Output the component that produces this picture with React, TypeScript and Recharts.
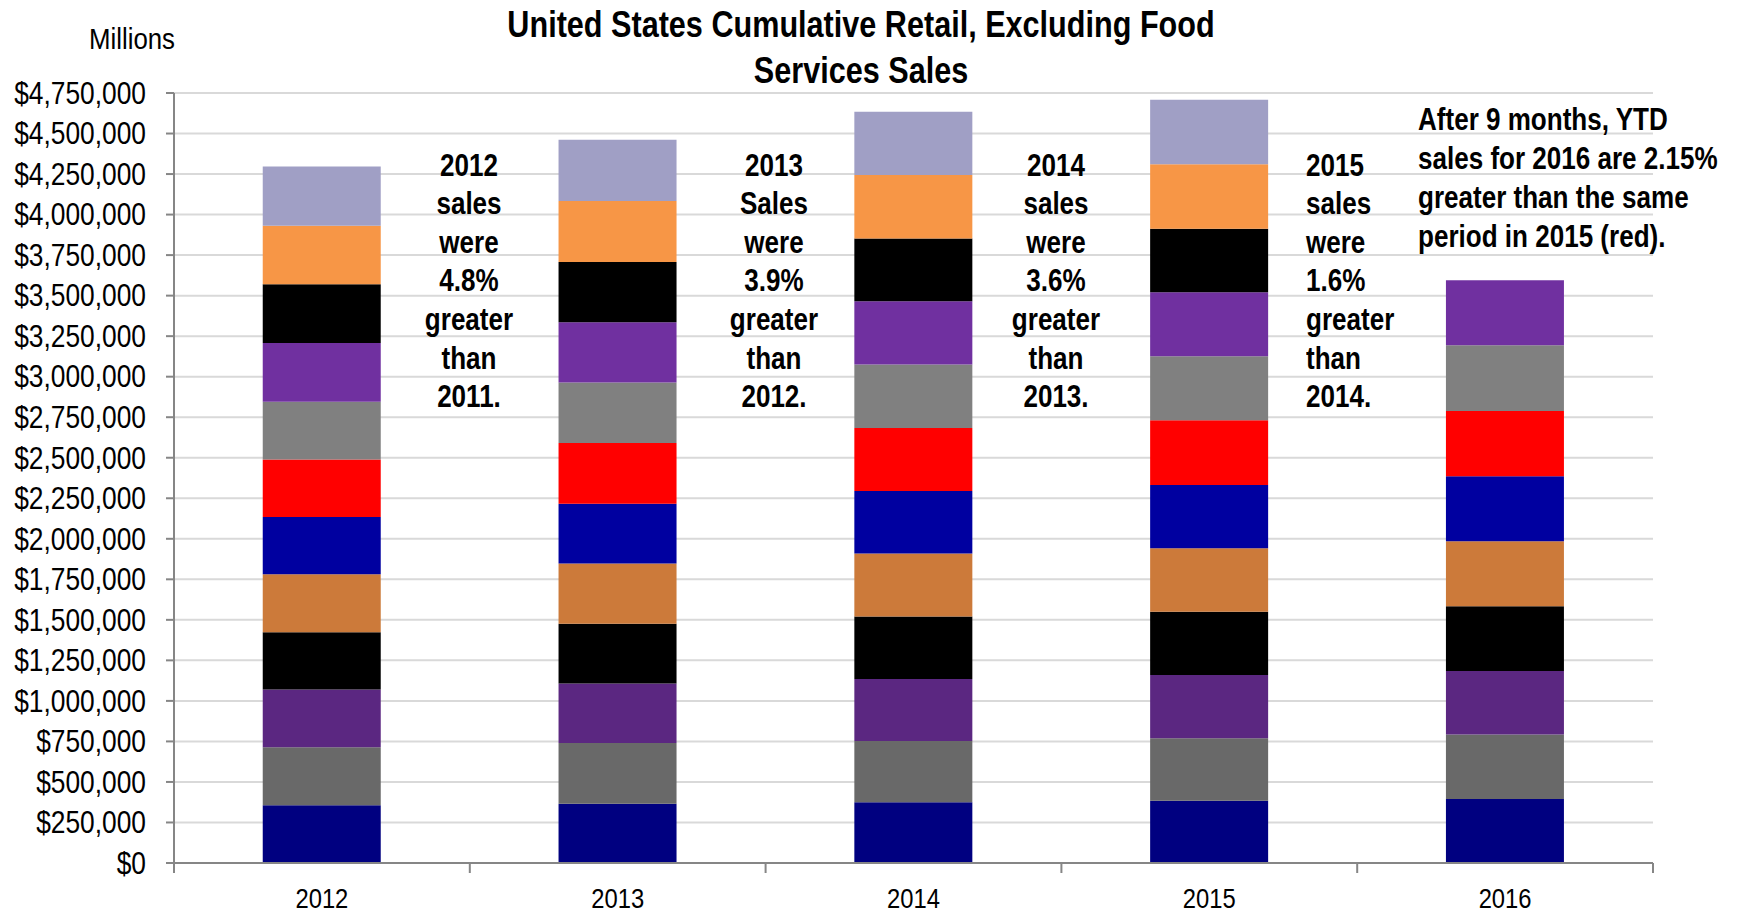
import React from "react";
import { BarChart, Bar, XAxis, YAxis, CartesianGrid } from "recharts";

const years = ["2012", "2013", "2014", "2015", "2016"];
const monthKeys = ["jan", "feb", "mar", "apr", "may", "jun", "jul", "aug", "sep", "oct", "nov", "dec"];
const monthColors = ["#000080", "#696969", "#5B2781", "#000000", "#CC7A3A", "#0000A0", "#FF0000", "#808080", "#7030A0", "#000000", "#F79646", "#A09FC5"];

// monthly sales, millions of dollars
const sales2012 = [355700, 357600, 357600, 353100, 357700, 353300, 353800, 357200, 361700, 361800, 361500, 366000];
const sales2013 = [365600, 374200, 368100, 367400, 372400, 368600, 374900, 372300, 371800, 371700, 376000, 378600];
const sales2014 = [374200, 377900, 382300, 386500, 388400, 385900, 388400, 390900, 390200, 388400, 390300, 390800];
const sales2015 = [384100, 384700, 390200, 390300, 392700, 390200, 398900, 394600, 394500, 392700, 398300, 397000];
const sales2016 = [394600, 398800, 390300, 400700, 400700, 400800, 402500, 405100, 400700];

const yTicks = [0, 250000, 500000, 750000, 1000000, 1250000, 1500000, 1750000, 2000000, 2250000, 2500000, 2750000, 3000000, 3250000, 3500000, 3750000, 4000000, 4250000, 4500000, 4750000];

const titleLines = ["United States Cumulative Retail, Excluding Food", "Services Sales"];
const note2012 = ["2012", "sales", "were", "4.8%", "greater", "than", "2011."];
const note2013 = ["2013", "Sales", "were", "3.9%", "greater", "than", "2012."];
const note2014 = ["2014", "sales", "were", "3.6%", "greater", "than", "2013."];
const note2015 = ["2015", "sales", "were", "1.6%", "greater", "than", "2014."];
const note2016 = ["After 9 months, YTD", "sales for 2016 are 2.15%", "greater than the same", "period in 2015 (red)."];

const allSales = [sales2012, sales2013, sales2014, sales2015, sales2016];
const data = years.map((year, i) => {
  const row: Record<string, any> = { year };
  monthKeys.forEach((k, m) => {
    row[k] = allSales[i][m] !== undefined ? allSales[i][m] : null;
  });
  return row;
});

const W = 1739;
const H = 916;
const Y_AXIS_W = 174;
const RIGHT = 86;
const TOP = 93;
const X_AXIS_H = 53;
const BAND = (W - Y_AXIS_W - RIGHT) / years.length;
const SX = 0.85;

const FONT = "'Liberation Sans', Arial, sans-serif";

const fmt = (v: number) => "$" + v.toLocaleString("en-US");

const XTick = (props: any) => {
  const { x, y, payload, index, visibleTicksCount } = props;
  const half = BAND / 2;
  return (
    <g>
      <line x1={x - half} x2={x - half} y1={y} y2={y + 10} stroke="#868686" strokeWidth={2} />
      {index === visibleTicksCount - 1 && (
        <line x1={x + half} x2={x + half} y1={y} y2={y + 10} stroke="#868686" strokeWidth={2} />
      )}
      <text
        transform={`translate(${x},${y + 35}) scale(${SX},1)`}
        textAnchor="middle"
        dominantBaseline="central"
        fontFamily={FONT}
        fontSize={28}
        fill="#000"
      >
        {payload.value}
      </text>
    </g>
  );
};

const YTick = (props: any) => {
  const { x, y, payload } = props;
  return (
    <text
      transform={`translate(${x},${y}) scale(${SX},1)`}
      textAnchor="end"
      dominantBaseline="central"
      fontFamily={FONT}
      fontSize={31}
      fill="#000"
    >
      {fmt(payload.value)}
    </text>
  );
};

const lineStyle = (align: "center" | "left", sx: number): React.CSSProperties => ({
  transform: `scaleX(${sx})`,
  transformOrigin: align === "center" ? "50% 50%" : "0 50%",
  whiteSpace: "nowrap",
});

const boxStyle = (left: number, top: number, align: "center" | "left", width: number, size: number, lh: number, bold: boolean): React.CSSProperties => ({
  position: "absolute",
  left,
  top,
  width,
  textAlign: align,
  fontFamily: FONT,
  fontWeight: bold ? "bold" : "normal",
  fontSize: size,
  lineHeight: `${lh}px`,
  color: "#000",
});

const TextBlock = ({ lines, left, top, align, width, size, lh, bold, sx }: any) => (
  <div style={boxStyle(left, top, align, width, size, lh, bold)}>
    {lines.map((l: string, i: number) => (
      <div key={i} style={lineStyle(align, sx)}>
        {l}
      </div>
    ))}
  </div>
);

export default function App() {
  return (
    <div style={{ position: "absolute", left: 0, top: 0, width: W, height: H, background: "#fff" }}>
      <BarChart
        width={W}
        height={H}
        data={data}
        margin={{ top: TOP, right: RIGHT, bottom: 0, left: 0 }}
        barCategoryGap="30%"
      >
        <CartesianGrid horizontal vertical={false} stroke="#D9D9D9" strokeWidth={2} />
        <XAxis
          dataKey="year"
          height={X_AXIS_H}
          axisLine={{ stroke: "#868686", strokeWidth: 2 }}
          tickLine={false}
          tickSize={0}
          tickMargin={0}
          tick={<XTick />}
          interval={0}
        />
        <YAxis
          width={Y_AXIS_W}
          domain={[0, 4750000]}
          ticks={yTicks}
          interval={0}
          axisLine={{ stroke: "#868686", strokeWidth: 2 }}
          tickLine={{ stroke: "#868686", strokeWidth: 2 }}
          tickSize={8}
          tickMargin={20}
          tick={<YTick />}
        />
        {monthKeys.map((k, i) => (
          <Bar key={k} dataKey={k} stackId="a" fill={monthColors[i]} isAnimationActive={false} />
        ))}
      </BarChart>

      <TextBlock lines={titleLines} left={261} top={2} align="center" width={1200} size={36} lh={45.5} bold sx={0.85} />
      <TextBlock lines={["Millions"]} left={72} top={20} align="center" width={120} size={30} lh={38} bold={false} sx={0.86} />

      <TextBlock lines={note2012} left={369} top={146.7} align="center" width={200} size={31} lh={38.6} bold sx={0.84} />
      <TextBlock lines={note2013} left={674} top={146.7} align="center" width={200} size={31} lh={38.6} bold sx={0.84} />
      <TextBlock lines={note2014} left={956} top={146.7} align="center" width={200} size={31} lh={38.6} bold sx={0.84} />
      <TextBlock lines={note2015} left={1306} top={146.7} align="left" width={120} size={31} lh={38.6} bold sx={0.84} />
      <TextBlock lines={note2016} left={1418} top={99.7} align="left" width={320} size={31} lh={39} bold sx={0.84} />
    </div>
  );
}
